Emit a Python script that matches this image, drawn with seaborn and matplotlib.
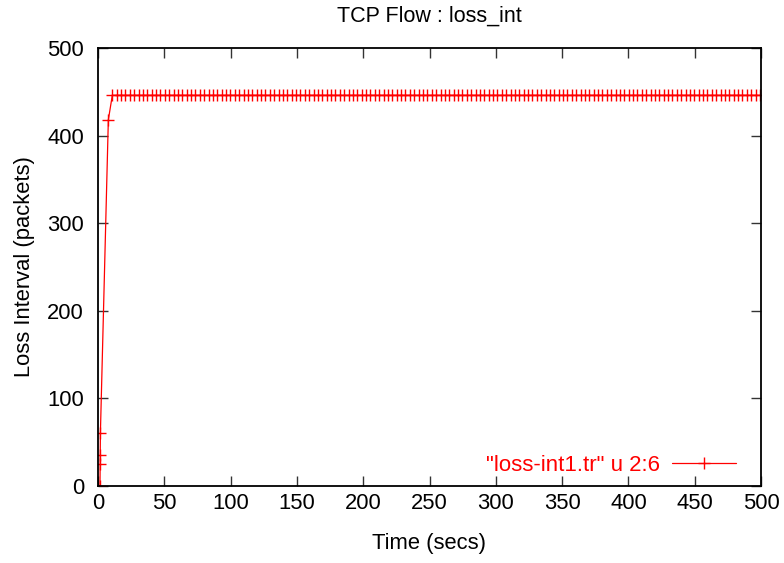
import matplotlib
matplotlib.use("Agg")
import matplotlib.pyplot as plt
import seaborn as sns
import pandas as pd

# ---- data ----
start_times = [1.5, 1.6, 1.7, 1.8, 7.8]
start_values = [0, 25, 35, 60, 418]

steady_times = [
    10.8, 14.1, 17.4, 20.7, 24.0, 27.3, 30.6, 33.9, 37.2, 40.5,
    43.8, 47.1, 50.4, 53.7, 57.0, 60.3, 63.6, 66.9, 70.2, 73.5,
    76.8, 80.1, 83.4, 86.7, 90.0, 93.3, 96.6, 99.9, 103.2, 106.5,
    109.8, 113.1, 116.4, 119.7, 123.0, 126.3, 129.6, 132.9, 136.2, 139.5,
    142.8, 146.1, 149.4, 152.7, 156.0, 159.3, 162.6, 165.9, 169.2, 172.5,
    175.8, 179.1, 182.4, 185.7, 189.0, 192.3, 195.6, 198.9, 202.2, 205.5,
    208.8, 212.1, 215.4, 218.7, 222.0, 225.3, 228.6, 231.9, 235.2, 238.5,
    241.8, 245.1, 248.4, 251.7, 255.0, 258.3, 261.6, 264.9, 268.2, 271.5,
    274.8, 278.1, 281.4, 284.7, 288.0, 291.3, 294.6, 297.9, 301.2, 304.5,
    307.8, 311.1, 314.4, 317.7, 321.0, 324.3, 327.6, 330.9, 334.2, 337.5,
    340.8, 344.1, 347.4, 350.7, 354.0, 357.3, 360.6, 363.9, 367.2, 370.5,
    373.8, 377.1, 380.4, 383.7, 387.0, 390.3, 393.6, 396.9, 400.2, 403.5,
    406.8, 410.1, 413.4, 416.7, 420.0, 423.3, 426.6, 429.9, 433.2, 436.5,
    439.8, 443.1, 446.4, 449.7, 453.0, 456.3, 459.6, 462.9, 466.2, 469.5,
    472.8, 476.1, 479.4, 482.7, 486.0, 489.3, 492.6, 495.9, 499.2,
]
steady_value = 446

x_ticks = [0, 50, 100, 150, 200, 250, 300, 350, 400, 450, 500]
y_ticks = [0, 100, 200, 300, 400, 500]

title = "TCP Flow : loss_int"
x_label = "Time (secs)"
y_label = "Loss Interval (packets)"
series_label = '"loss-int1.tr" u 2:6'

# ---- build table ----
times = start_times + steady_times
values = start_values + [steady_value] * len(steady_times)
df = pd.DataFrame({"time": times, "loss": values})

sns.set_style("white")
plt.rcParams["font.family"] = ["Liberation Sans", "DejaVu Sans"]
plt.rcParams["text.color"] = "black"
plt.rcParams["axes.labelcolor"] = "black"
plt.rcParams["xtick.color"] = "black"
plt.rcParams["ytick.color"] = "black"

fig = plt.figure(figsize=(7.84, 5.63), dpi=100)
ax = fig.add_axes([98 / 784, 1 - 486 / 563, (761 - 98) / 784, (486 - 48) / 563])

sns.lineplot(data=df, x="time", y="loss", ax=ax, color="red", linewidth=0.9,
             marker="+", markersize=8, markeredgewidth=1.0,
             markeredgecolor="red", label=series_label, sort=False,
             estimator=None)

ax.set_xlim(0, 500)
ax.set_ylim(0, 500)
ax.set_xticks(x_ticks)
ax.set_yticks(y_ticks)
ax.tick_params(direction="in", length=7, width=1, color="#333333",
               labelcolor="black",
               top=True, right=True, bottom=True, left=True,
               labelsize=15.8)
ax.tick_params(axis="y", pad=10)
ax.tick_params(axis="x", pad=5)
for s in ax.spines.values():
    s.set_visible(True)
    s.set_color("black")
    s.set_linewidth(1.3)

ax.set_title(title, fontsize=15.5, pad=19, color="black")
ax.set_xlabel(x_label, fontsize=15.8, labelpad=14)
ax.set_ylabel(y_label, fontsize=15.8, labelpad=9)

leg = ax.legend(loc="center right", bbox_to_anchor=(0.963, 0.047),
                frameon=False, markerfirst=False, labelcolor="red",
                fontsize=16, handlelength=2.9, handletextpad=0.55,
                borderpad=0, borderaxespad=0)

fig.savefig("out.png", dpi=100)
